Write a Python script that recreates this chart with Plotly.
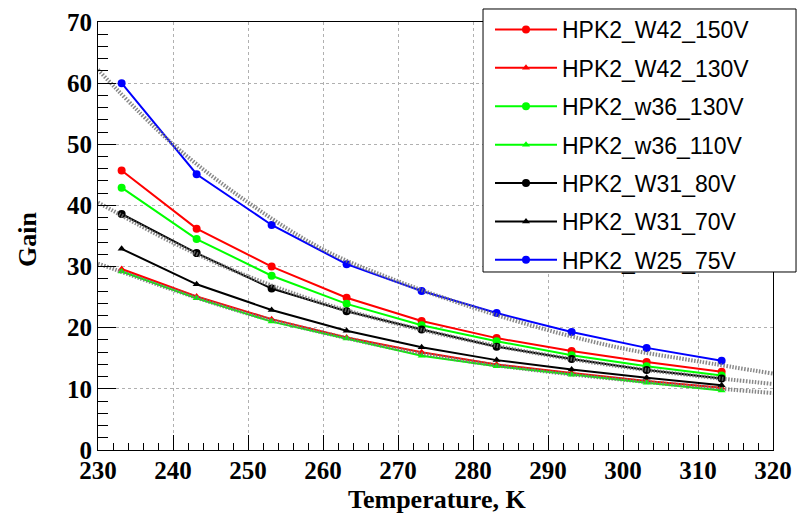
import plotly.graph_objects as go

# Temperatures (K) of the measurements
temperature = [233.15, 243.15, 253.15, 263.15, 273.15, 283.15, 293.15, 303.15, 313.15]

gain_W42_150V = [45.7, 36.2, 30.0, 24.9, 21.1, 18.3, 16.2, 14.4, 12.8]
gain_W42_130V = [29.6, 25.1, 21.4, 18.4, 16.0, 14.0, 12.6, 11.3, 10.2]
gain_w36_130V = [42.9, 34.5, 28.5, 23.9, 20.4, 17.8, 15.5, 13.7, 12.2]
gain_w36_110V = [29.2, 24.8, 21.0, 18.25, 15.4, 13.7, 12.3, 11.0, 9.75]
gain_W31_80V = [38.6, 32.2, 26.4, 22.7, 19.7, 16.9, 14.9, 13.1, 11.7]
gain_W31_70V = [32.9, 27.1, 22.9, 19.5, 16.8, 14.7, 13.15, 11.8, 10.6]
gain_W25_75V = [60.0, 45.1, 36.8, 30.4, 26.0, 22.4, 19.3, 16.7, 14.6]

series_names = ["HPK2_W42_150V", "HPK2_W42_130V", "HPK2_w36_130V", "HPK2_w36_110V",
                "HPK2_W31_80V", "HPK2_W31_70V", "HPK2_W25_75V"]

# Fit curves at 10 K steps
fit_temperature = [230, 240, 250, 260, 270, 280, 290, 300, 310, 320]
fit_upper = [62.2, 50.0, 40.5, 32.8, 27.6, 23.3, 19.6, 16.6, 14.5, 12.5]
fit_middle = [40.5, 33.9, 28.4, 24.0, 20.6, 17.8, 15.5, 13.6, 12.1, 10.8]
fit_lower = [30.5, 26.2, 22.3, 19.2, 16.5, 14.4, 12.8, 11.5, 10.35, 9.3]

x_ticks = [230, 240, 250, 260, 270, 280, 290, 300, 310, 320]
y_ticks = [0, 10, 20, 30, 40, 50, 60, 70]

series_values = [gain_W42_150V, gain_W42_130V, gain_w36_130V, gain_w36_110V,
                 gain_W31_80V, gain_W31_70V, gain_W25_75V]
colors = ["#ff0000", "#ff0000", "#00ff00", "#00ff00", "#000000", "#000000", "#0000ff"]
symbols = ["circle", "triangle-up", "circle", "triangle-up", "circle", "triangle-up", "circle"]
sizes = [8, 7, 8, 7, 8, 7, 8]

fig = go.Figure()
for name, vals, c, s, sz in zip(series_names, series_values, colors, symbols, sizes):
    fig.add_trace(go.Scatter(
        x=temperature, y=vals, name=name, mode="lines+markers",
        line=dict(color=c, width=2),
        marker=dict(color=c, symbol=s, size=sz, line=dict(width=0)),
        legendgroup=name,
    ))

for fv in [fit_upper, fit_middle, fit_lower]:
    fig.add_trace(go.Scatter(
        x=fit_temperature, y=fv, mode="lines", showlegend=False, hoverinfo="skip",
        line=dict(color="rgba(115,115,115,0.85)", width=4, dash="1.5px,1.5px", shape="spline"),
    ))

W, H = 798, 511
serif = "Liberation Serif"
fig.update_layout(
    width=W, height=H,
    margin=dict(l=90, r=33, t=14, b=69, autoexpand=False),
    paper_bgcolor="white", plot_bgcolor="white",
    showlegend=True,
    legend=dict(
        xref="container", yref="container",
        x=482 / W, y=1 + 13 / H, xanchor="left", yanchor="top",
        bgcolor="rgba(0,0,0,0)", borderwidth=0,
        font=dict(family="Liberation Sans", size=23, color="black"),
        itemwidth=62, tracegroupgap=5.5, maxheight=600,
    ),
    shapes=[dict(
        type="rect", xref="paper", yref="paper",
        x0=0.5704, x1=1.0341, y0=0.4159, y1=1.0304,
        line=dict(color="black", width=1), fillcolor="white", layer="above",
    )],
    xaxis=dict(
        range=[230, 320], tickvals=x_ticks, ticktext=[str(v) for v in x_ticks],
        ticks="inside", ticklen=15, tickcolor="black", automargin=False,
        ticklabelstandoff=-2,
        minor=dict(ticks="inside", ticklen=7, dtick=2, tickcolor="black", showgrid=False),
        showgrid=True, gridcolor="#b0b0b0", griddash="dot", gridwidth=1,
        showline=True, linecolor="black", linewidth=1, mirror=True,
        zeroline=False,
        tickfont=dict(family=serif, size=25, color="black", weight="bold"),
    ),
    yaxis=dict(
        range=[0, 70], tickvals=y_ticks, ticktext=[str(v) for v in y_ticks],
        ticks="inside", ticklen=18, tickcolor="black", automargin=False,
        minor=dict(ticks="inside", ticklen=10, dtick=2, tickcolor="black", showgrid=False),
        showgrid=True, gridcolor="#b0b0b0", griddash="dot", gridwidth=1,
        showline=True, linecolor="black", linewidth=1, mirror=True,
        zeroline=False,
        tickfont=dict(family=serif, size=25, color="black", weight="bold"),
    ),
    annotations=[
        dict(text="<b>Gain</b>", textangle=-90, xref="paper", yref="paper",
             x=-0.1037, y=0.4907, xanchor="center", yanchor="middle", showarrow=False,
             font=dict(family=serif, size=26, color="black")),
        dict(text="<b>Temperature, K</b>", xref="paper", yref="paper",
             x=0.502, y=-0.1168, xanchor="center", yanchor="middle", showarrow=False,
             font=dict(family=serif, size=26, color="black")),
    ],
)

fig.write_html("out.html")
